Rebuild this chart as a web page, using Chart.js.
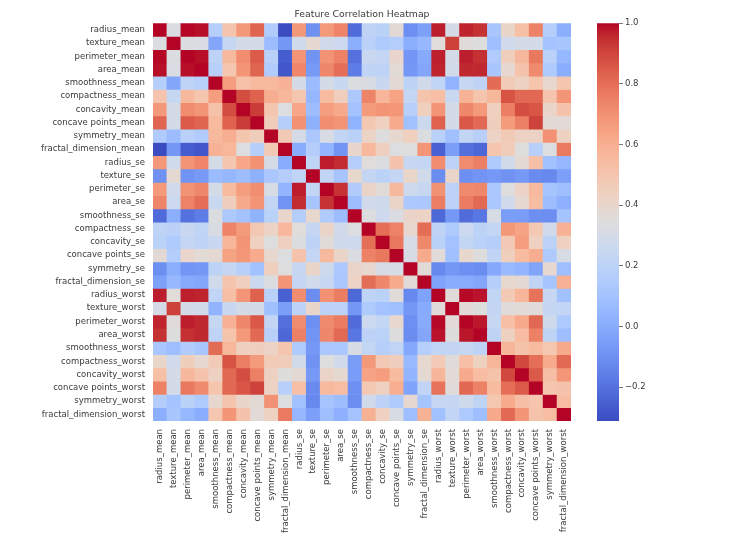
<!DOCTYPE html>
<html>
<head>
<meta charset="utf-8">
<script src="https://cdn.jsdelivr.net/npm/chart.js@4"></script>
<style>
  html, body { margin: 0; padding: 0; background: #fff; }
  #wrap { position: relative; width: 750px; height: 545px; }
  #heat { position: absolute; left: 0; top: 0; }
  #bar { position: absolute; left: 590px; top: 0; }
</style>
</head>
<body>
<div id="wrap">
  <canvas id="heat" width="750" height="545"></canvas>
  <canvas id="bar" width="160" height="545"></canvas>
</div>
<script>
const features = [
  'radius_mean', 'texture_mean', 'perimeter_mean', 'area_mean', 'smoothness_mean',
  'compactness_mean', 'concavity_mean', 'concave points_mean', 'symmetry_mean', 'fractal_dimension_mean',
  'radius_se', 'texture_se', 'perimeter_se', 'area_se', 'smoothness_se',
  'compactness_se', 'concavity_se', 'concave points_se', 'symmetry_se', 'fractal_dimension_se',
  'radius_worst', 'texture_worst', 'perimeter_worst', 'area_worst', 'smoothness_worst',
  'compactness_worst', 'concavity_worst', 'concave points_worst', 'symmetry_worst', 'fractal_dimension_worst'
];

// correlation matrix, one row per feature (same order as features)
const corr = [
  [1, 0.324, 0.998, 0.987, 0.171, 0.506, 0.677, 0.823, 0.148, -0.312, 0.679, -0.097, 0.674, 0.736, -0.223, 0.206, 0.194, 0.376, -0.104, -0.043, 0.970, 0.297, 0.965, 0.941, 0.120, 0.413, 0.527, 0.744, 0.164, 0.007],
  [0.324, 1, 0.330, 0.321, -0.023, 0.237, 0.302, 0.293, 0.071, -0.076, 0.276, 0.386, 0.282, 0.260, 0.007, 0.192, 0.143, 0.164, 0.009, 0.054, 0.353, 0.912, 0.358, 0.344, 0.078, 0.278, 0.301, 0.295, 0.105, 0.119],
  [0.998, 0.330, 1, 0.987, 0.207, 0.557, 0.716, 0.851, 0.183, -0.261, 0.692, -0.087, 0.693, 0.745, -0.203, 0.251, 0.228, 0.407, -0.082, -0.005, 0.969, 0.303, 0.970, 0.942, 0.151, 0.456, 0.564, 0.771, 0.189, 0.051],
  [0.987, 0.321, 0.987, 1, 0.177, 0.499, 0.686, 0.823, 0.151, -0.283, 0.733, -0.066, 0.727, 0.800, -0.167, 0.213, 0.208, 0.372, -0.072, -0.020, 0.963, 0.287, 0.959, 0.959, 0.124, 0.390, 0.513, 0.722, 0.144, 0.004],
  [0.171, -0.023, 0.207, 0.177, 1, 0.659, 0.522, 0.554, 0.558, 0.585, 0.301, 0.068, 0.296, 0.247, 0.332, 0.319, 0.248, 0.381, 0.201, 0.284, 0.213, 0.036, 0.239, 0.207, 0.805, 0.472, 0.435, 0.503, 0.394, 0.499],
  [0.506, 0.237, 0.557, 0.499, 0.659, 1, 0.883, 0.831, 0.603, 0.565, 0.497, 0.046, 0.549, 0.455, 0.135, 0.739, 0.570, 0.642, 0.230, 0.507, 0.535, 0.248, 0.590, 0.510, 0.566, 0.866, 0.816, 0.816, 0.510, 0.687],
  [0.677, 0.302, 0.716, 0.686, 0.522, 0.883, 1, 0.921, 0.501, 0.337, 0.632, 0.076, 0.660, 0.617, 0.099, 0.670, 0.691, 0.683, 0.178, 0.449, 0.688, 0.300, 0.730, 0.676, 0.449, 0.755, 0.884, 0.861, 0.409, 0.515],
  [0.823, 0.293, 0.851, 0.823, 0.554, 0.831, 0.921, 1, 0.462, 0.167, 0.698, 0.021, 0.711, 0.690, 0.028, 0.490, 0.439, 0.616, 0.095, 0.258, 0.830, 0.293, 0.856, 0.810, 0.453, 0.667, 0.752, 0.910, 0.376, 0.369],
  [0.148, 0.071, 0.183, 0.151, 0.558, 0.603, 0.501, 0.462, 1, 0.480, 0.303, 0.128, 0.314, 0.224, 0.187, 0.422, 0.343, 0.393, 0.449, 0.332, 0.186, 0.091, 0.219, 0.177, 0.427, 0.473, 0.434, 0.430, 0.700, 0.438],
  [-0.312, -0.076, -0.261, -0.283, 0.585, 0.565, 0.337, 0.167, 0.480, 1, 0.000, 0.164, 0.040, -0.090, 0.402, 0.560, 0.447, 0.341, 0.345, 0.688, -0.254, -0.051, -0.205, -0.232, 0.505, 0.459, 0.346, 0.175, 0.334, 0.767],
  [0.679, 0.276, 0.692, 0.733, 0.301, 0.497, 0.632, 0.698, 0.303, 0.000, 1, 0.213, 0.973, 0.952, 0.165, 0.356, 0.332, 0.514, 0.241, 0.228, 0.715, 0.195, 0.720, 0.752, 0.142, 0.287, 0.381, 0.531, 0.095, 0.050],
  [-0.097, 0.386, -0.087, -0.066, 0.068, 0.046, 0.076, 0.021, 0.128, 0.164, 0.213, 1, 0.223, 0.112, 0.397, 0.232, 0.195, 0.230, 0.412, 0.280, -0.112, 0.409, -0.102, -0.083, -0.074, -0.092, -0.069, -0.120, -0.128, -0.046],
  [0.674, 0.282, 0.693, 0.727, 0.296, 0.549, 0.660, 0.711, 0.314, 0.040, 0.973, 0.223, 1, 0.938, 0.151, 0.416, 0.362, 0.556, 0.266, 0.244, 0.697, 0.200, 0.721, 0.731, 0.130, 0.342, 0.419, 0.555, 0.110, 0.085],
  [0.736, 0.260, 0.745, 0.800, 0.247, 0.455, 0.617, 0.690, 0.224, -0.090, 0.952, 0.112, 0.938, 1, 0.075, 0.285, 0.271, 0.416, 0.134, 0.127, 0.757, 0.196, 0.761, 0.811, 0.125, 0.284, 0.385, 0.538, 0.074, 0.018],
  [-0.223, 0.007, -0.203, -0.167, 0.332, 0.135, 0.099, 0.028, 0.187, 0.402, 0.165, 0.397, 0.151, 0.075, 1, 0.337, 0.269, 0.328, 0.414, 0.427, -0.231, -0.075, -0.217, -0.182, 0.314, -0.056, -0.058, -0.102, -0.107, 0.101],
  [0.206, 0.192, 0.251, 0.213, 0.319, 0.739, 0.670, 0.490, 0.422, 0.560, 0.356, 0.232, 0.416, 0.285, 0.337, 1, 0.801, 0.744, 0.395, 0.803, 0.205, 0.143, 0.261, 0.199, 0.227, 0.679, 0.639, 0.483, 0.278, 0.591],
  [0.194, 0.143, 0.228, 0.208, 0.248, 0.570, 0.691, 0.439, 0.343, 0.447, 0.332, 0.195, 0.362, 0.271, 0.269, 0.801, 1, 0.772, 0.309, 0.727, 0.187, 0.100, 0.227, 0.188, 0.168, 0.485, 0.663, 0.440, 0.198, 0.439],
  [0.376, 0.164, 0.407, 0.372, 0.381, 0.642, 0.683, 0.616, 0.393, 0.341, 0.514, 0.230, 0.556, 0.416, 0.328, 0.744, 0.772, 1, 0.313, 0.611, 0.358, 0.087, 0.395, 0.342, 0.215, 0.453, 0.550, 0.602, 0.143, 0.311],
  [-0.104, 0.009, -0.082, -0.072, 0.201, 0.230, 0.178, 0.095, 0.449, 0.345, 0.241, 0.412, 0.266, 0.134, 0.414, 0.395, 0.309, 0.313, 1, 0.369, -0.128, -0.077, -0.104, -0.110, -0.013, 0.060, 0.037, -0.030, 0.389, 0.078],
  [-0.043, 0.054, -0.005, -0.020, 0.284, 0.507, 0.449, 0.258, 0.332, 0.688, 0.228, 0.280, 0.244, 0.127, 0.427, 0.803, 0.727, 0.611, 0.369, 1, -0.037, -0.003, -0.001, -0.023, 0.171, 0.391, 0.380, 0.215, 0.111, 0.591],
  [0.970, 0.353, 0.969, 0.963, 0.213, 0.535, 0.688, 0.830, 0.186, -0.254, 0.715, -0.112, 0.697, 0.757, -0.231, 0.205, 0.187, 0.358, -0.128, -0.037, 1, 0.360, 0.994, 0.984, 0.217, 0.476, 0.574, 0.787, 0.243, 0.093],
  [0.297, 0.912, 0.303, 0.287, 0.036, 0.248, 0.300, 0.293, 0.091, -0.051, 0.195, 0.409, 0.200, 0.196, -0.075, 0.143, 0.100, 0.087, -0.077, -0.003, 0.360, 1, 0.365, 0.346, 0.225, 0.361, 0.368, 0.360, 0.233, 0.219],
  [0.965, 0.358, 0.970, 0.959, 0.239, 0.590, 0.730, 0.856, 0.219, -0.205, 0.720, -0.102, 0.721, 0.761, -0.217, 0.261, 0.227, 0.395, -0.104, -0.001, 0.994, 0.365, 1, 0.978, 0.237, 0.529, 0.618, 0.816, 0.270, 0.139],
  [0.941, 0.344, 0.942, 0.959, 0.207, 0.510, 0.676, 0.810, 0.177, -0.232, 0.752, -0.083, 0.731, 0.811, -0.182, 0.199, 0.188, 0.342, -0.110, -0.023, 0.984, 0.346, 0.978, 1, 0.209, 0.438, 0.543, 0.747, 0.209, 0.080],
  [0.120, 0.078, 0.151, 0.124, 0.805, 0.566, 0.449, 0.453, 0.427, 0.505, 0.142, -0.074, 0.130, 0.125, 0.314, 0.227, 0.168, 0.215, -0.013, 0.171, 0.217, 0.225, 0.237, 0.209, 1, 0.568, 0.518, 0.548, 0.494, 0.618],
  [0.413, 0.278, 0.456, 0.390, 0.472, 0.866, 0.755, 0.667, 0.473, 0.459, 0.287, -0.092, 0.342, 0.284, -0.056, 0.679, 0.485, 0.453, 0.060, 0.391, 0.476, 0.361, 0.529, 0.438, 0.568, 1, 0.892, 0.801, 0.614, 0.810],
  [0.527, 0.301, 0.564, 0.513, 0.435, 0.816, 0.884, 0.752, 0.434, 0.346, 0.381, -0.069, 0.419, 0.385, -0.058, 0.639, 0.663, 0.550, 0.037, 0.380, 0.574, 0.368, 0.618, 0.543, 0.518, 0.892, 1, 0.855, 0.533, 0.687],
  [0.744, 0.295, 0.771, 0.722, 0.503, 0.816, 0.861, 0.910, 0.430, 0.175, 0.531, -0.120, 0.555, 0.538, -0.102, 0.483, 0.440, 0.602, -0.030, 0.215, 0.787, 0.360, 0.816, 0.747, 0.548, 0.801, 0.855, 1, 0.503, 0.511],
  [0.164, 0.105, 0.189, 0.144, 0.394, 0.510, 0.409, 0.376, 0.700, 0.334, 0.095, -0.128, 0.110, 0.074, -0.107, 0.278, 0.198, 0.143, 0.389, 0.111, 0.243, 0.233, 0.270, 0.209, 0.494, 0.614, 0.533, 0.503, 1, 0.538],
  [0.007, 0.119, 0.051, 0.004, 0.499, 0.687, 0.515, 0.369, 0.438, 0.767, 0.050, -0.046, 0.085, 0.018, 0.101, 0.591, 0.439, 0.311, 0.078, 0.591, 0.093, 0.219, 0.139, 0.080, 0.618, 0.810, 0.687, 0.511, 0.538, 1]
];

const colorbarTicks = [-0.2, 0.0, 0.2, 0.4, 0.6, 0.8, 1.0];

// matplotlib "coolwarm" (Moreland), 33 stops
const coolwarm = [
  [59,76,192],[68,90,204],[77,104,215],[87,117,225],[98,130,234],[108,142,241],[119,154,247],[130,165,251],
  [141,176,254],[152,185,255],[163,194,255],[174,201,253],[184,208,249],[194,213,244],[204,217,238],[213,219,230],
  [221,221,221],[229,216,209],[236,211,197],[241,204,185],[245,196,173],[247,187,160],[247,177,148],[247,166,135],
  [244,154,123],[241,141,111],[236,127,99],[229,112,88],[222,96,77],[213,80,66],[203,62,56],[192,40,47],[180,4,38]
];

const vmin = Math.min(...corr.flat());
const vmax = Math.max(...corr.flat());

function cmap(v) {
  let t = (v - vmin) / (vmax - vmin);
  t = Math.max(0, Math.min(1, t)) * (coolwarm.length - 1);
  const i = Math.min(Math.floor(t), coolwarm.length - 2);
  const f = t - i;
  const a = coolwarm[i], b = coolwarm[i + 1];
  const c = a.map((x, k) => Math.round(x + (b[k] - x) * f));
  return `rgb(${c[0]},${c[1]},${c[2]})`;
}

const textColor = '#3a3a3a';
const tickFont = { family: 'DejaVu Sans', size: 8.5 };

// each row of the matrix is one dataset of floating bars [row, row + 1]
const datasets = corr.map((row, i) => ({
  label: features[i],
  data: row.map(() => [i, i + 1]),
  backgroundColor: row.map(v => cmap(v)),
  borderWidth: 0,
  barPercentage: 1,
  categoryPercentage: 1,
  grouped: false
}));

new Chart(document.getElementById('heat'), {
  type: 'bar',
  data: { labels: features, datasets: datasets },
  options: {
    responsive: false,
    animation: false,
    layout: { padding: { left: 0, right: 179, top: 0, bottom: 0 } },
    plugins: {
      legend: { display: false },
      tooltip: { enabled: false },
      title: {
        display: true,
        text: 'Feature Correlation Heatmap',
        fullSize: false,
        color: textColor,
        font: { family: 'DejaVu Sans', size: 9.3, weight: 'normal' },
        padding: { top: 9, bottom: 3 }
      }
    },
    scales: {
      x: {
        type: 'category',
        grid: { display: false, drawTicks: false },
        border: { display: false },
        ticks: {
          autoSkip: false,
          maxRotation: 90,
          minRotation: 90,
          padding: 8,
          color: textColor,
          font: tickFont
        },
        afterFit: axis => { axis.height = 124; }
      },
      y: {
        type: 'linear',
        min: 0,
        max: features.length,
        reverse: true,
        grid: { display: false, drawTicks: false },
        border: { display: false },
        afterBuildTicks: axis => {
          axis.ticks = features.map((_, i) => ({ value: i + 0.5 }));
        },
        ticks: {
          autoSkip: false,
          padding: 8,
          color: textColor,
          font: tickFont,
          callback: (v, i) => features[i]
        },
        afterFit: axis => { axis.width = 153; }
      }
    }
  }
});

// colorbar: one floating bar from vmin to vmax filled with the colormap
new Chart(document.getElementById('bar'), {
  type: 'bar',
  data: {
    labels: [''],
    datasets: [{
      data: [[vmin, vmax]],
      borderWidth: 0,
      barPercentage: 1,
      categoryPercentage: 1,
      backgroundColor: ctx => {
        const chart = ctx.chart;
        const y = chart.scales.y;
        if (!chart.chartArea || !y) return '#ccc';
        const g = chart.ctx.createLinearGradient(0, y.getPixelForValue(vmin), 0, y.getPixelForValue(vmax));
        coolwarm.forEach((c, k) => {
          g.addColorStop(k / (coolwarm.length - 1), `rgb(${c[0]},${c[1]},${c[2]})`);
        });
        return g;
      }
    }]
  },
  options: {
    responsive: false,
    animation: false,
    layout: { padding: { left: 7, right: 0, top: 23.2, bottom: 124 } },
    plugins: { legend: { display: false }, tooltip: { enabled: false } },
    scales: {
      x: { display: false },
      y: {
        type: 'linear',
        position: 'right',
        min: vmin,
        max: vmax,
        border: { display: false },
        grid: { display: true, drawOnChartArea: false, drawTicks: true, tickLength: 4, color: '#555', lineWidth: 0.8 },
        afterBuildTicks: axis => {
          axis.ticks = colorbarTicks.map(v => ({ value: v }));
        },
        ticks: {
          padding: 2,
          color: textColor,
          font: tickFont,
          callback: v => (v < 0 ? '\u2212' : '') + Math.abs(v).toFixed(1)
        },
        afterFit: axis => { axis.width = 160 - 7 - 22; }
      }
    }
  }
});
</script>
</body>
</html>
